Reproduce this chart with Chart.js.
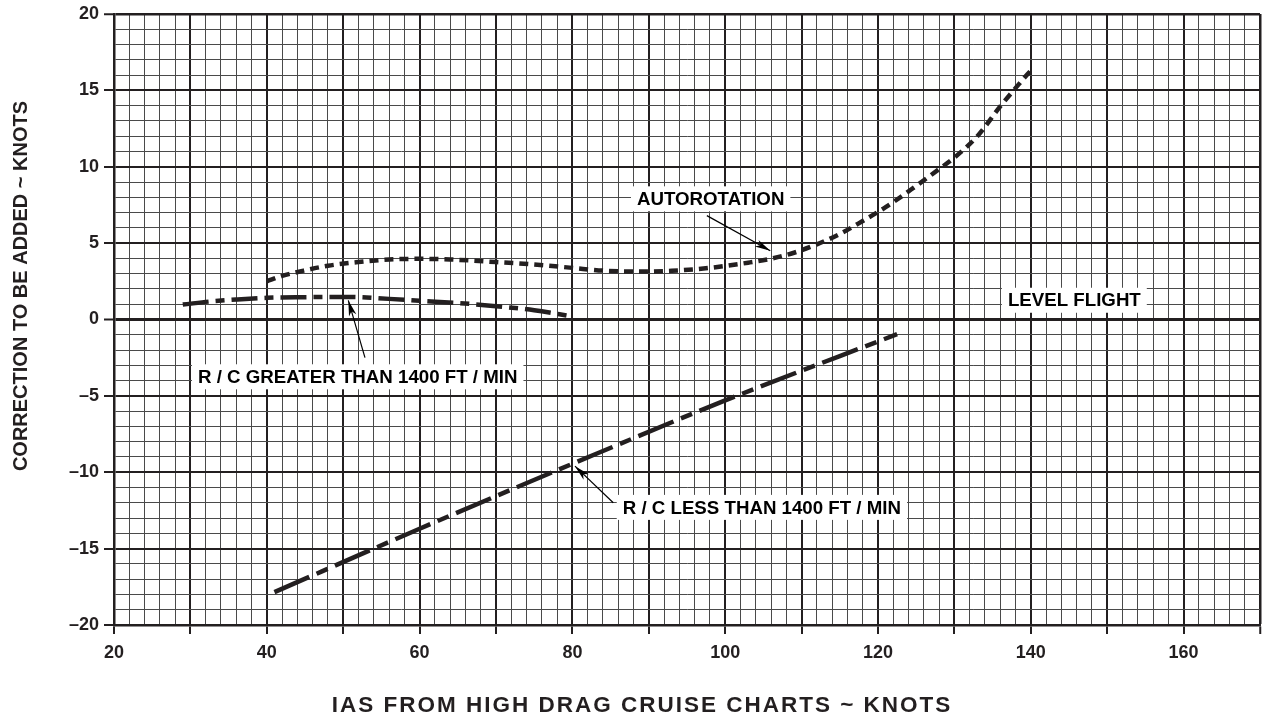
<!DOCTYPE html>
<html><head><meta charset="utf-8">
<script src="https://cdn.jsdelivr.net/npm/chart.js@4.4.1/dist/chart.umd.min.js"></script>
<style>html,body{margin:0;padding:0;background:#fff;}#wrap{width:1262px;height:719px;}</style>
</head><body><div id="wrap"><canvas id="c" width="1262" height="719"></canvas></div>
<script>
// ---- data ----
const xTickLabels = [20, 40, 60, 80, 100, 120, 140, 160];
const yTickLabels = [-20, -15, -10, -5, 0, 5, 10, 15, 20];

const autorotationX = [40, 42, 45, 48, 52, 56, 60, 64, 70, 75, 80, 84, 89, 93, 98, 103, 106, 109, 112, 115, 118, 121, 125, 128, 130, 133, 136, 138.6, 140];
const autorotationY = [2.5, 2.85, 3.22, 3.52, 3.76, 3.93, 3.97, 3.93, 3.76, 3.6, 3.38, 3.2, 3.14, 3.19, 3.38, 3.72, 3.98, 4.37, 4.92, 5.6, 6.45, 7.35, 8.75, 9.85, 10.6, 12.0, 13.95, 15.5, 16.3];

const rcGreaterX = [29, 33, 36, 40, 45, 51, 56, 60, 65, 70, 75, 80];
const rcGreaterY = [0.98, 1.2, 1.31, 1.42, 1.46, 1.48, 1.35, 1.22, 1.08, 0.87, 0.61, 0.2];

const rcLessX = [41, 60, 80, 100, 122.5];
const rcLessY = [-17.85, -13.7, -9.45, -5.3, -0.96];

const labelTexts = ['AUTOROTATION', 'R / C GREATER THAN 1400 FT / MIN', 'R / C LESS THAN 1400 FT / MIN', 'LEVEL FLIGHT'];
const xTitle = 'IAS FROM HIGH DRAG CRUISE CHARTS ~ KNOTS';
const yTitle = 'CORRECTION TO BE ADDED ~ KNOTS';

// annotation placement (data units): label centre, arrow tail, arrow head
const annotations = [
  {i: 0, x: 98.1, y: 7.9, tail: [97.6, 6.8], head: [105.9, 4.5]},
  {i: 1, x: 51.9, y: -3.75, tail: [52.85, -2.5], head: [50.67, 1.25]},
  {i: 2, x: 104.8, y: -12.3, tail: [85.35, -12.0], head: [80.34, -9.6]},
  {i: 3, x: 145.7, y: 1.26, tail: null, head: null}
];

const INK = '#231f20';
const FONT = "'Liberation Sans', Arial, sans-serif";

function pts(xs, ys) { return xs.map((x, k) => ({x: x, y: ys[k]})); }
function gridTicks(min, max, step) { const out = []; for (let v = min; v <= max + 1e-9; v += step) out.push({value: v}); return out; }

const annotationPlugin = {
  id: 'annot',
  afterDatasetsDraw(chart) {
    const ctx = chart.ctx, sx = chart.scales.x, sy = chart.scales.y;
    ctx.save();
    ctx.font = 'bold 18.7px ' + FONT;
    ctx.textAlign = 'center';
    ctx.textBaseline = 'middle';
    annotations.forEach(a => {
      const t = labelTexts[a.i];
      const cx = sx.getPixelForValue(a.x), cy = sy.getPixelForValue(a.y);
      const w = ctx.measureText(t).width;
      ctx.fillStyle = '#fff';
      ctx.fillRect(cx - w / 2 - 6, cy - 12.5, w + 12, 25);
      ctx.fillStyle = '#000';
      ctx.fillText(t, cx, cy + 1);
      if (a.tail) {
        const x1 = sx.getPixelForValue(a.tail[0]), y1 = sy.getPixelForValue(a.tail[1]);
        const x2 = sx.getPixelForValue(a.head[0]), y2 = sy.getPixelForValue(a.head[1]);
        ctx.strokeStyle = '#000';
        ctx.lineWidth = 1.2;
        ctx.beginPath(); ctx.moveTo(x1, y1); ctx.lineTo(x2, y2); ctx.stroke();
        const ang = Math.atan2(y2 - y1, x2 - x1), L = 16, W = 0.24;
        ctx.fillStyle = '#000';
        ctx.beginPath();
        ctx.moveTo(x2, y2);
        ctx.lineTo(x2 - L * Math.cos(ang - W), y2 - L * Math.sin(ang - W));
        ctx.lineTo(x2 - L * 0.7 * Math.cos(ang), y2 - L * 0.7 * Math.sin(ang));
        ctx.lineTo(x2 - L * Math.cos(ang + W), y2 - L * Math.sin(ang + W));
        ctx.closePath(); ctx.fill();
      }
    });
    // axis titles
    ctx.fillStyle = INK;
    ctx.font = 'bold 22.5px ' + FONT;
    try { ctx.letterSpacing = '2px'; } catch (e) {}
    ctx.fillText(xTitle, 642, 706);
    ctx.font = 'bold 20px ' + FONT;
    try { ctx.letterSpacing = '0px'; } catch (e) {}
    ctx.translate(21, 286);
    ctx.rotate(-Math.PI / 2);
    ctx.fillText(yTitle, 0, 0);
    ctx.restore();
  }
};

const isMajorX = v => Math.abs(v % 10) < 1e-6;
const isMajorY = v => Math.abs(v % 5) < 1e-6;

new Chart(document.getElementById('c'), {
  type: 'scatter',
  data: {
    datasets: [
      {label: 'AUTOROTATION', data: pts(autorotationX, autorotationY), showLine: true, borderColor: INK, borderWidth: 4.5, borderDash: [9, 6], pointRadius: 0, cubicInterpolationMode: 'monotone', fill: false},
      {label: 'R / C GREATER THAN 1400 FT / MIN', data: pts(rcGreaterX, rcGreaterY), showLine: true, borderColor: INK, borderWidth: 4.5, borderDash: [26, 7, 9, 7], pointRadius: 0, cubicInterpolationMode: 'monotone', fill: false},
      {label: 'R / C LESS THAN 1400 FT / MIN', data: pts(rcLessX, rcLessY), showLine: true, borderColor: INK, borderWidth: 4.5, borderDash: [38, 8, 12, 8], pointRadius: 0, cubicInterpolationMode: 'monotone', fill: false}
    ]
  },
  options: {
    responsive: false,
    animation: false,
    devicePixelRatio: 1,
    layout: {padding: {left: 0, top: 14, right: 2, bottom: 0}},
    plugins: {legend: {display: false}, tooltip: {enabled: false}},
    scales: {
      x: {
        type: 'linear', min: 20, max: 170,
        afterBuildTicks: s => { s.ticks = gridTicks(20, 170, 2); },
        afterFit: s => { s.height = 94; s.paddingLeft = 0; s.paddingRight = 0; },
        ticks: {
          autoSkip: false, maxRotation: 0, minRotation: 0, padding: 8,
          color: INK, font: {family: FONT, size: 18, weight: 'bold'},
          callback: v => xTickLabels.includes(v) ? String(v) : ''
        },
        grid: {
          color: c => isMajorX(c.tick.value) ? INK : '#4a4a4a',
          lineWidth: c => (c.tick.value === 170) ? 2.5 : (isMajorX(c.tick.value) ? 2 : 1),
          tickColor: c => isMajorX(c.tick.value) ? INK : 'rgba(0,0,0,0)',
          tickLength: 9, tickWidth: 2
        },
        border: {display: true, color: INK, width: 2.5}
      },
      y: {
        type: 'linear', min: -20, max: 20,
        afterBuildTicks: s => { s.ticks = gridTicks(-20, 20, 1); },
        afterFit: s => { s.width = 114; s.paddingTop = 0; s.paddingBottom = 0; },
        ticks: {
          autoSkip: false, padding: 5,
          color: INK, font: {family: FONT, size: 18, weight: 'bold'},
          callback: v => yTickLabels.includes(v) ? (v < 0 ? '\u2013' + Math.abs(v) : String(v)) : ''
        },
        grid: {
          color: c => isMajorY(c.tick.value) ? INK : '#4a4a4a',
          lineWidth: c => c.tick.value === 0 ? 3 : (c.tick.value === 20 ? 2.5 : (isMajorY(c.tick.value) ? 2 : 1)),
          tickColor: c => isMajorY(c.tick.value) ? INK : 'rgba(0,0,0,0)',
          tickLength: 10, tickWidth: 2
        },
        border: {display: true, color: INK, width: 2.5}
      }
    }
  },
  plugins: [annotationPlugin]
});
</script>
</body></html>
